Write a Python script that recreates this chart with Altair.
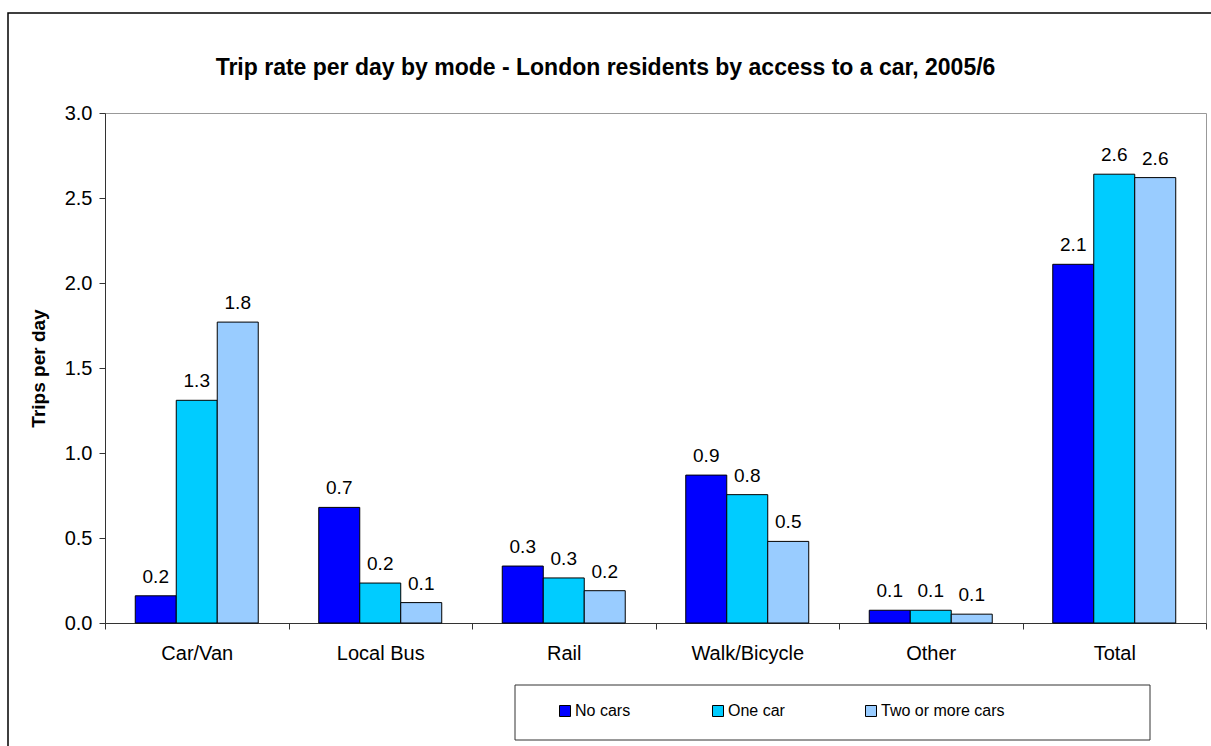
import altair as alt
import pandas as pd

modes = ["Car/Van", "Local Bus", "Rail", "Walk/Bicycle", "Other", "Total"]
series = ["No cars", "One car", "Two or more cars"]
no_cars = [0.16, 0.68, 0.335, 0.87, 0.075, 2.11]
one_car = [1.31, 0.235, 0.265, 0.755, 0.075, 2.64]
two_plus = [1.77, 0.12, 0.19, 0.48, 0.052, 2.62]
colors = ["#0000FF", "#00CCFF", "#99CCFF"]
y_ticks = [0.0, 0.5, 1.0, 1.5, 2.0, 2.5, 3.0]

rows = []
for i, m in enumerate(modes):
    for s, vals in zip(series, [no_cars, one_car, two_plus]):
        rows.append({"mode": m, "series": s, "value": vals[i]})
df = pd.DataFrame(rows)

FONT = "Liberation Sans"

x_enc = alt.X(
    "mode:N", sort=modes,
    scale=alt.Scale(paddingInner=0, paddingOuter=0),
    axis=alt.Axis(title=None, labelAngle=0, tickBand="extent", ticks=True, tickSize=6,
                  labelPadding=14, labelFontSize=20, labelFont=FONT, labelColor="black",
                  domainColor="#333333", tickColor="#333333"),
)
xoff = alt.XOffset("series:N", sort=series, scale=alt.Scale(paddingInner=0, paddingOuter=0.738))
y_enc = alt.Y(
    "value:Q",
    scale=alt.Scale(domain=[0, 3], nice=False),
    axis=alt.Axis(title="Trips per day", values=y_ticks, format=".1f", grid=False, tickSize=6,
                  labelPadding=7, labelFontSize=20, labelFont=FONT, labelColor="black",
                  titleFont=FONT, titleFontSize=19, titleFontWeight="bold", titleColor="black",
                  titlePadding=16, domainColor="#333333", tickColor="#333333"),
)

bars = alt.Chart(df).mark_bar(stroke="black", strokeWidth=1).encode(
    x=x_enc, xOffset=xoff, y=y_enc,
    color=alt.Color(
        "series:N", sort=series,
        scale=alt.Scale(domain=series, range=colors),
        legend=alt.Legend(title=None, orient="none", legendX=452, legendY=590,
                          direction="horizontal", symbolType="square", symbolSize=121,
                          symbolStrokeColor="black", symbolStrokeWidth=1, symbolOpacity=1,
                          labelFontSize=16, labelFont=FONT, labelColor="black",
                          gridAlign="all", columnPadding=11, padding=0, labelOffset=2),
    ),
)

labels = alt.Chart(df).mark_text(baseline="alphabetic", dy=-13, fontSize=19, font=FONT, color="black").encode(
    x=alt.X("mode:N", sort=modes), xOffset=alt.XOffset("series:N", sort=series),
    y="value:Q",
    text=alt.Text("value:Q", format=".1f"),
)

frame = alt.Chart(alt.Data(values=[{}])).mark_rect(fill="white", fillOpacity=0, stroke="black", strokeWidth=1.5).encode(
    x=alt.value(-97), x2=alt.value(1115), y=alt.value(-100), y2=alt.value(650)
)
legend_box = alt.Chart(alt.Data(values=[{}])).mark_rect(fill="white", fillOpacity=0, stroke="#333333", strokeWidth=1).encode(
    x=alt.value(410), x2=alt.value(1045), y=alt.value(572), y2=alt.value(627)
)

chart = alt.layer(frame, legend_box, bars, labels).properties(
    width=1101, height=510,
    autosize=alt.AutoSizeParams(type="none"),
    padding={"left": 105, "top": 113, "right": 5, "bottom": 123},
    title=alt.TitleParams("Trip rate per day by mode - London residents by access to a car, 2005/6",
                          font=FONT, fontSize=23, fontWeight="bold", color="black",
                          anchor="middle", frame="group", dx=-50, dy=68, offset=0),
    background="white",
).configure_view(stroke="#999999", strokeWidth=1)

chart.save("out.html", embed_options={"renderer": "svg", "actions": False})
